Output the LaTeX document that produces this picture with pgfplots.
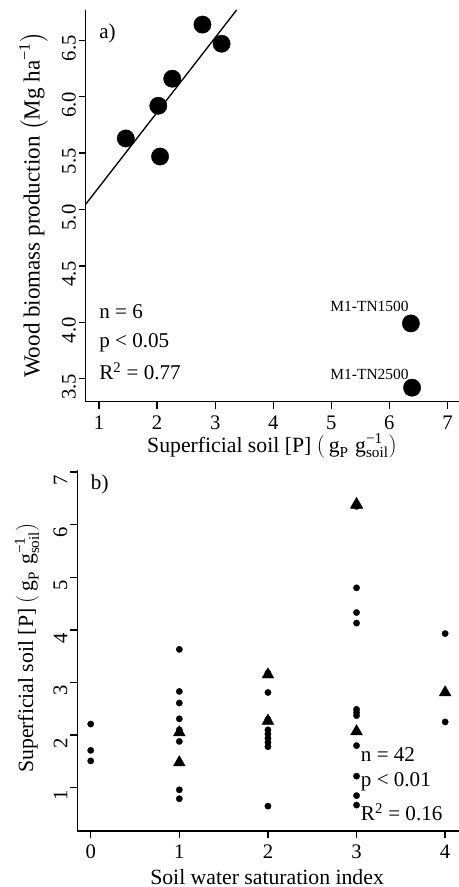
\documentclass[border=0pt]{standalone}
\usepackage{fontspec}
\setmainfont{Liberation Serif}
\usepackage{amsmath}
\usepackage{pgfplots}
\pgfplotsset{compat=1.18}

\pgfplotstableread{
x y
1.46 5.63
2.02 5.92
2.05 5.47
2.26 6.16
2.78 6.64
3.11 6.47
6.37 3.99
6.39 3.42
}\biomass

\pgfplotstableread{
x y
0 2.21
0 1.71
0 1.51
1 3.63
1 2.83
1 2.61
1 2.31
1 2.10
1 1.88
1 1.48
1 0.96
1 0.79
2 3.18
2 2.81
2 2.30
2 2.10
2 2.02
2 1.94
2 1.86
2 1.78
2 0.65
3 6.35
3 4.80
3 4.33
3 4.13
3 2.49
3 2.43
3 2.37
3 1.80
3 1.22
3 0.85
3 0.67
4 3.93
4 2.25
}\soilcirc

\pgfplotstableread{
x y
1 2.05
1 1.48
2 3.15
2 2.27
3 6.37
3 6.39
3 2.07
4 2.81
}\soiltri

\tikzset{note/.style={anchor=base west, inner sep=0pt, font=\fontsize{15.8}{18}\selectfont}}
\newcommand{\Punit}{$\left(\,\text{g}_{\text{P}}\;\text{g}^{\text{−1}}_{\text{soil}}\right)$}

\begin{document}
\begin{tikzpicture}
\path[use as bounding box] (0pt,0pt) rectangle (344.25pt,665.25pt);
\pgfplotsset{
  rstyle/.style={
    scale only axis,
    axis x line=bottom, axis y line=left,
    axis line style={-, line width=1pt},
    tick align=outside, major tick length=5.25pt,
    every tick/.style={black, line width=1pt},
    /pgf/number format/assume math mode=true,
    tick label style={font=\fontsize{15.5}{18}\selectfont},
    yticklabel style={rotate=90, anchor=south, inner sep=2pt, xshift=-6pt},
    xticklabel style={anchor=north, inner sep=2pt, yshift=-3pt},
    label style={font=\fontsize{16.3}{20}\selectfont, inner sep=0pt},
    clip=true,
  },
}
% ---------- panel a ----------
\begin{axis}[rstyle,
  at={(64.3pt,364pt)}, anchor=south west,
  width=280pt, height=293.8pt,
  xmin=0.77, xmax=7.2, ymin=3.296, ymax=6.77,
  xtick={1,2,3,4,5,6,7},
  ytick={3.5,4,4.5,5,5.5,6,6.5},
  yticklabel style={/pgf/number format/.cd, fixed, fixed zerofill, precision=1},
  xlabel={Superficial soil [P] \Punit},
  ylabel={Wood biomass production $\left(\text{Mg ha}^{\text{−1}}\right)$},
  xlabel style={at={(axis description cs:0.499,-0.113)}, anchor=center},
  ylabel style={at={(axis description cs:-0.140,0.502)}, anchor=center, rotate=0, font=\fontsize{17.3}{20}\selectfont},
]
\addplot[black, line width=1pt] coordinates {(0.77,5.047) (3.37,6.77)};
\addplot[only marks, mark=*, mark size=6.5pt, mark options={fill=black, draw=black, line width=0.3pt}] table {\biomass};
\node[note] at (axis cs:1.0,6.52) {a)};
\node[note] at (axis cs:1.0,4.035) {n = 6};
\node[note] at (axis cs:1.0,3.78) {p {\char"3C} 0.05};
\node[note] at (axis cs:1.0,3.496) {R\textsuperscript{2} = 0.77};
\node[anchor=base east, inner sep=0pt, font=\fontsize{11.6}{14}\selectfont] at (axis cs:6.336,4.093) {M1-TN1500};
\node[anchor=base east, inner sep=0pt, font=\fontsize{11.6}{14}\selectfont] at (axis cs:6.336,3.493) {M1-TN2500};
\end{axis}
% ---------- panel b ----------
\begin{axis}[rstyle,
  at={(58pt,42pt)}, anchor=south west,
  width=286.3pt, height=270.75pt,
  xmin=-0.151, xmax=4.157, ymin=0.177, ymax=7.04,
  xtick={0,1,2,3,4},
  ytick={1,2,3,4,5,6,7},
  xlabel={Soil water saturation index},
  ylabel={Superficial soil [P] \Punit},
  xlabel style={at={(axis description cs:0.497,-0.127)}, anchor=center},
  ylabel style={at={(axis description cs:-0.132,0.507)}, anchor=center, rotate=0},
]
\addplot[only marks, mark=*, mark size=2.4pt, mark options={fill=black, draw=black, line width=0.2pt}] table {\soilcirc};
\addplot[only marks, mark=triangle*, mark size=5.2pt, mark options={fill=black, draw=black, line width=0.2pt}] table {\soiltri};
\node[note] at (axis cs:0.0,6.66) {b)};
\node[note] at (axis cs:3.047,1.494) {n = 42};
\node[note] at (axis cs:3.047,1.02) {p {\char"3C} 0.01};
\node[note] at (axis cs:3.047,0.386) {R\textsuperscript{2} = 0.16};
\end{axis}
\end{tikzpicture}
\end{document}
